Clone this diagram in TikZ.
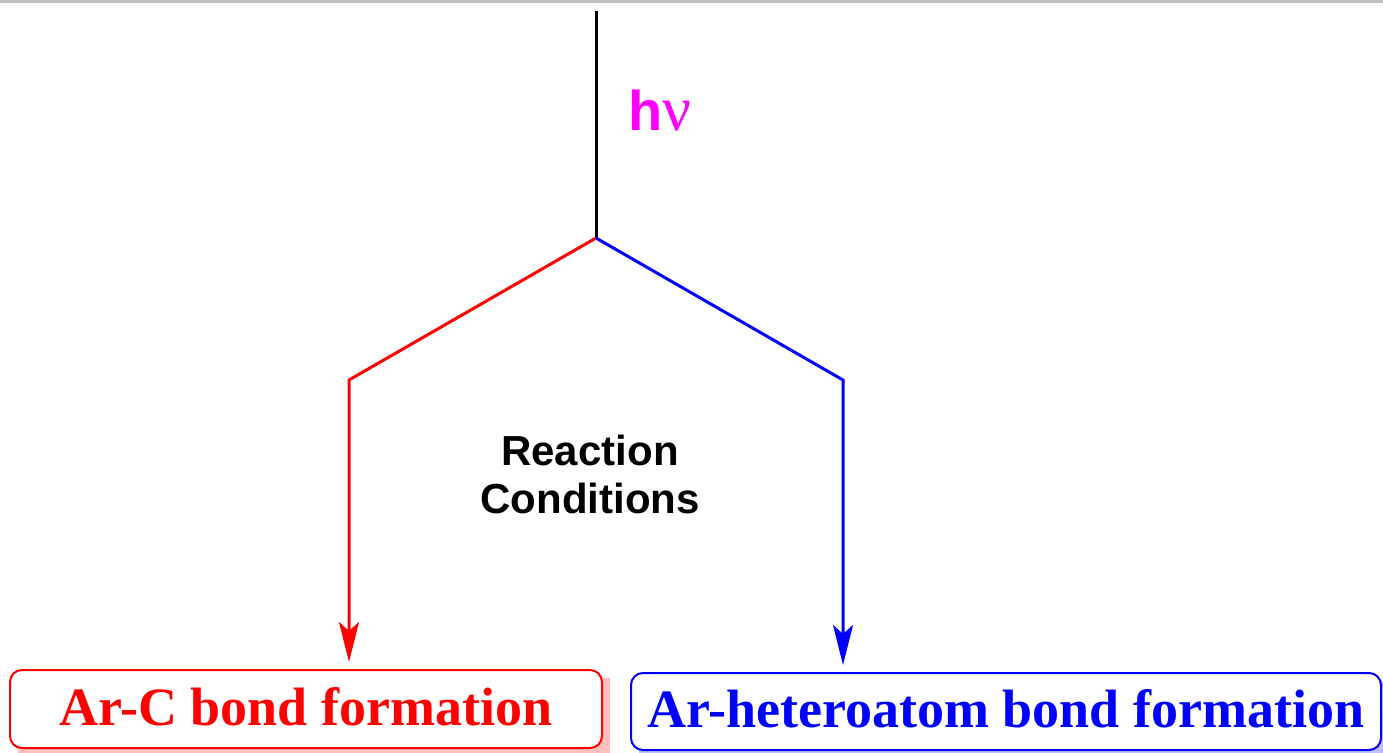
\documentclass[tikz,border=0pt]{standalone}
\usepackage{fontspec}
\setmainfont{Liberation Serif}
\setsansfont{Liberation Sans}
\usetikzlibrary{arrows.meta}
\definecolor{mag}{RGB}{255,0,255}
\definecolor{rd}{RGB}{255,0,0}
\definecolor{bl}{RGB}{0,0,255}
\begin{document}
\begin{tikzpicture}[x=1pt,y=-1pt,
  conn/.style={line width=3pt,-{Stealth[length=40pt,width=20pt,inset=9pt]},shorten >=7pt},
  resbox/.style={draw,line width=2pt,rounded corners=12pt,fill=white,inner sep=0pt,font=\bfseries\fontsize{54}{60}\selectfont},
  lab/.style={font=\sffamily\bfseries\fontsize{42}{48}\selectfont,align=center}]
\useasboundingbox (0,0) rectangle (1383,752);
\fill[gray!50] (0,0) rectangle (1383,3);
% boxes
\fill[rd!25] (18,678) rectangle (610,756);
\node[resbox,draw=rd,text=rd,minimum width=592pt,minimum height=78pt,text depth=6pt] (rbox) at (306,709) {Ar-C bond\ formation};
\fill[bl!25] (639,681) rectangle (1389,758);
\node[resbox,draw=bl,text=bl,minimum width=750pt,minimum height=77pt,text depth=6pt] (bbox) at (1006,711.5) {Ar-heteroatom\ bond\ formation};
% structure
\coordinate (top) at (596,11);
\coordinate (j) at (596,238);
\coordinate (bl1) at (349,380);
\coordinate (br1) at (843,380);
\draw[line width=3pt] (top) -- (j);
\draw[conn,draw=rd] (j) -- (bl1) -- (bl1 |- rbox.north);
\draw[conn,draw=bl] (j) -- (br1) -- (br1 |- bbox.north);
\node[anchor=base west,inner sep=0pt,text=mag] (hv) at (628,130) {\sffamily\bfseries\fontsize{56}{60}\selectfont h\rmfamily\mdseries\fontsize{64}{64}\selectfont ν};
\node[lab] (rc) at (590,474) {Reaction\\Conditions};
\end{tikzpicture}
\end{document}
